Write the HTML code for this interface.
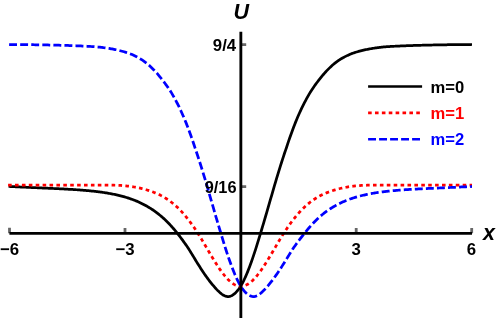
<!DOCTYPE html>
<html><head><meta charset="utf-8"><style>
html,body{margin:0;padding:0;background:#fff;}
body{width:498px;height:320px;overflow:hidden;}
svg{display:block;will-change:transform;}
text{font-family:"Liberation Sans",sans-serif;font-weight:bold;}
</style></head><body>
<svg width="498" height="320" viewBox="0 0 498 320">
<g fill="none" stroke-width="2.75" stroke-linejoin="round">
<path d="M8.6,186.43 L9.6,186.48 L10.6,186.53 L11.6,186.58 L12.6,186.63 L13.6,186.67 L14.6,186.72 L15.6,186.77 L16.6,186.82 L17.6,186.86 L18.6,186.91 L19.6,186.96 L20.6,187.01 L21.6,187.05 L22.6,187.10 L23.6,187.15 L24.6,187.19 L25.6,187.24 L26.6,187.29 L27.6,187.33 L28.6,187.38 L29.6,187.42 L30.6,187.47 L31.6,187.52 L32.6,187.56 L33.6,187.61 L34.6,187.66 L35.6,187.70 L36.6,187.75 L37.6,187.80 L38.6,187.84 L39.6,187.89 L40.6,187.93 L41.6,187.97 L42.6,188.02 L43.6,188.06 L44.6,188.10 L45.6,188.14 L46.6,188.19 L47.6,188.23 L48.6,188.27 L49.6,188.32 L50.6,188.36 L51.6,188.41 L52.6,188.45 L53.6,188.50 L54.6,188.54 L55.6,188.59 L56.6,188.64 L57.6,188.68 L58.6,188.73 L59.6,188.78 L60.6,188.83 L61.6,188.88 L62.6,188.93 L63.6,188.98 L64.6,189.04 L65.6,189.09 L66.6,189.14 L67.6,189.20 L68.6,189.26 L69.6,189.31 L70.6,189.37 L71.6,189.43 L72.6,189.49 L73.6,189.56 L74.6,189.62 L75.6,189.68 L76.6,189.75 L77.6,189.82 L78.6,189.89 L79.6,189.96 L80.6,190.04 L81.6,190.11 L82.6,190.19 L83.6,190.27 L84.6,190.36 L85.6,190.45 L86.6,190.53 L87.6,190.62 L88.6,190.72 L89.6,190.81 L90.6,190.91 L91.6,191.01 L92.6,191.12 L93.6,191.23 L94.6,191.34 L95.6,191.45 L96.6,191.57 L97.6,191.69 L98.6,191.82 L99.6,191.94 L100.6,192.08 L101.6,192.21 L102.6,192.36 L103.6,192.50 L104.6,192.65 L105.6,192.81 L106.6,192.97 L107.6,193.13 L108.6,193.30 L109.6,193.48 L110.6,193.66 L111.6,193.85 L112.6,194.04 L113.6,194.24 L114.6,194.45 L115.6,194.66 L116.6,194.88 L117.6,195.11 L118.6,195.34 L119.6,195.59 L120.6,195.84 L121.6,196.10 L122.6,196.36 L123.6,196.64 L124.6,196.92 L125.6,197.22 L126.6,197.52 L127.6,197.83 L128.6,198.16 L129.6,198.49 L130.6,198.83 L131.6,199.19 L132.6,199.56 L133.6,199.93 L134.6,200.32 L135.6,200.72 L136.6,201.14 L137.6,201.57 L138.6,202.01 L139.6,202.46 L140.6,202.93 L141.6,203.41 L142.6,203.90 L143.6,204.41 L144.6,204.94 L145.6,205.48 L146.6,206.04 L147.6,206.61 L148.6,207.20 L149.6,207.81 L150.6,208.44 L151.6,209.08 L152.6,209.74 L153.6,210.43 L154.6,211.13 L155.6,211.85 L156.6,212.59 L157.6,213.36 L158.6,214.14 L159.6,214.95 L160.6,215.78 L161.6,216.63 L162.6,217.51 L163.6,218.40 L164.6,219.32 L165.6,220.27 L166.6,221.24 L167.6,222.23 L168.6,223.25 L169.6,224.30 L170.6,225.37 L171.6,226.47 L172.6,227.59 L173.6,228.74 L174.6,229.92 L175.6,231.12 L176.6,232.34 L177.6,233.60 L178.6,234.88 L179.6,236.18 L180.6,237.50 L181.6,238.84 L182.6,240.19 L183.6,241.57 L184.6,242.96 L185.6,244.36 L186.6,245.77 L187.6,247.20 L188.6,248.73 L189.6,250.35 L190.6,251.97 L191.6,253.60 L192.6,255.24 L193.6,256.89 L194.6,258.55 L195.6,260.21 L196.6,261.88 L197.6,263.48 L198.6,265.04 L199.6,266.60 L200.6,268.15 L201.6,269.71 L202.6,271.26 L203.6,272.74 L204.6,274.17 L205.6,275.59 L206.6,276.99 L207.6,278.37 L208.6,279.73 L209.6,281.06 L210.6,282.34 L211.6,283.60 L212.6,284.81 L213.6,285.98 L214.6,287.15 L215.6,288.29 L216.6,289.38 L217.6,290.41 L218.6,291.36 L219.6,292.30 L220.6,293.19 L221.6,293.99 L222.6,294.72 L223.6,295.32 L224.6,295.80 L225.6,296.19 L226.6,296.47 L227.6,296.58 L228.6,296.53 L229.6,296.37 L230.6,296.09 L231.6,295.69 L232.6,295.14 L233.6,294.45 L234.6,293.64 L235.6,292.70 L236.6,291.66 L237.6,290.51 L238.6,289.23 L239.6,287.83 L240.6,286.29 L241.6,284.60 L242.6,282.77 L243.6,280.82 L244.6,278.75 L245.6,276.56 L246.6,274.26 L247.6,271.85 L248.6,269.32 L249.6,266.70 L250.6,264.00 L251.6,261.23 L252.6,258.37 L253.6,255.43 L254.6,252.41 L255.6,249.32 L256.6,246.17 L257.6,242.96 L258.6,239.69 L259.6,236.37 L260.6,233.07 L261.6,229.77 L262.6,226.44 L263.6,223.07 L264.6,219.68 L265.6,216.26 L266.6,212.81 L267.6,209.34 L268.6,205.89 L269.6,202.45 L270.6,198.99 L271.6,195.53 L272.6,192.07 L273.6,188.61 L274.6,185.17 L275.6,181.78 L276.6,178.44 L277.6,175.13 L278.6,171.86 L279.6,168.63 L280.6,165.44 L281.6,162.28 L282.6,159.14 L283.6,156.06 L284.6,153.05 L285.6,150.09 L286.6,147.18 L287.6,144.15 L288.6,141.18 L289.6,138.29 L290.6,135.47 L291.6,132.68 L292.6,129.94 L293.6,127.26 L294.6,124.66 L295.6,122.13 L296.6,119.70 L297.6,117.33 L298.6,115.03 L299.6,112.78 L300.6,110.59 L301.6,108.45 L302.6,106.36 L303.6,104.35 L304.6,102.41 L305.6,100.52 L306.6,98.66 L307.6,96.85 L308.6,95.08 L309.6,93.34 L310.6,91.69 L311.6,90.15 L312.6,88.67 L313.6,87.22 L314.6,85.80 L315.6,84.41 L316.6,83.05 L317.6,81.71 L318.6,80.41 L319.6,79.14 L320.6,77.88 L321.6,76.64 L322.6,75.43 L323.6,74.25 L324.6,73.11 L325.6,72.00 L326.6,70.92 L327.6,69.87 L328.6,68.86 L329.6,67.88 L330.6,66.92 L331.6,65.98 L332.6,65.09 L333.6,64.22 L334.6,63.40 L335.6,62.61 L336.6,61.85 L337.6,61.14 L338.6,60.44 L339.6,59.77 L340.6,59.14 L341.6,58.53 L342.6,57.96 L343.6,57.41 L344.6,56.89 L345.6,56.38 L346.6,55.87 L347.6,55.38 L348.6,54.92 L349.6,54.48 L350.6,54.06 L351.6,53.66 L352.6,53.29 L353.6,52.94 L354.6,52.61 L355.6,52.30 L356.6,52.00 L357.6,51.71 L358.6,51.44 L359.6,51.17 L360.6,50.91 L361.6,50.65 L362.6,50.40 L363.6,50.16 L364.6,49.93 L365.6,49.70 L366.6,49.49 L367.6,49.28 L368.6,49.09 L369.6,48.91 L370.6,48.74 L371.6,48.57 L372.6,48.41 L373.6,48.26 L374.6,48.11 L375.6,47.97 L376.6,47.83 L377.6,47.70 L378.6,47.57 L379.6,47.44 L380.6,47.32 L381.6,47.21 L382.6,47.09 L383.6,46.99 L384.6,46.89 L385.6,46.82 L386.6,46.74 L387.6,46.67 L388.6,46.61 L389.6,46.54 L390.6,46.48 L391.6,46.42 L392.6,46.36 L393.6,46.31 L394.6,46.25 L395.6,46.20 L396.6,46.15 L397.6,46.11 L398.6,46.06 L399.6,46.02 L400.6,45.97 L401.6,45.93 L402.6,45.88 L403.6,45.84 L404.6,45.80 L405.6,45.76 L406.6,45.72 L407.6,45.68 L408.6,45.64 L409.6,45.61 L410.6,45.57 L411.6,45.54 L412.6,45.51 L413.6,45.48 L414.6,45.45 L415.6,45.42 L416.6,45.39 L417.6,45.36 L418.6,45.33 L419.6,45.30 L420.6,45.28 L421.6,45.25 L422.6,45.23 L423.6,45.20 L424.6,45.18 L425.6,45.15 L426.6,45.13 L427.6,45.11 L428.6,45.09 L429.6,45.06 L430.6,45.04 L431.6,45.02 L432.6,45.00 L433.6,44.98 L434.6,44.96 L435.6,44.94 L436.6,44.93 L437.6,44.91 L438.6,44.89 L439.6,44.87 L440.6,44.85 L441.6,44.84 L442.6,44.82 L443.6,44.81 L444.6,44.79 L445.6,44.77 L446.6,44.76 L447.6,44.74 L448.6,44.73 L449.6,44.72 L450.6,44.70 L451.6,44.69 L452.6,44.68 L453.6,44.66 L454.6,44.65 L455.6,44.64 L456.6,44.63 L457.6,44.62 L458.6,44.61 L459.6,44.59 L460.6,44.58 L461.6,44.58 L462.6,44.57 L463.6,44.56 L464.6,44.55 L465.6,44.54 L466.6,44.53 L467.6,44.53 L468.6,44.52 L469.6,44.51 L470.6,44.51 L471.6,44.50 L472.0,44.50" stroke="#000"/>
<path d="M8.1,185.10 L9.1,185.10 L10.1,185.10 L11.1,185.10 L12.1,185.10 L13.1,185.10 L14.1,185.10 L15.1,185.10 L16.1,185.10 L17.1,185.10 L18.1,185.10 L19.1,185.10 L20.1,185.10 L21.1,185.10 L22.1,185.10 L23.1,185.10 L24.1,185.10 L25.1,185.10 L26.1,185.10 L27.1,185.10 L28.1,185.10 L29.1,185.10 L30.1,185.10 L31.1,185.09 L32.1,185.09 L33.1,185.09 L34.1,185.09 L35.1,185.09 L36.1,185.09 L37.1,185.09 L38.1,185.09 L39.1,185.10 L40.1,185.10 L41.1,185.10 L42.1,185.09 L43.1,185.09 L44.1,185.09 L45.1,185.09 L46.1,185.09 L47.1,185.09 L48.1,185.09 L49.1,185.09 L50.1,185.09 L51.1,185.09 L52.1,185.09 L53.1,185.09 L54.1,185.09 L55.1,185.09 L56.1,185.09 L57.1,185.09 L58.1,185.10 L59.1,185.10 L60.1,185.10 L61.1,185.10 L62.1,185.10 L63.1,185.09 L64.1,185.09 L65.1,185.09 L66.1,185.09 L67.1,185.09 L68.1,185.09 L69.1,185.09 L70.1,185.09 L71.1,185.08 L72.1,185.08 L73.1,185.09 L74.1,185.09 L75.1,185.09 L76.1,185.09 L77.1,185.09 L78.1,185.09 L79.1,185.09 L80.1,185.10 L81.1,185.10 L82.1,185.10 L83.1,185.09 L84.1,185.09 L85.1,185.09 L86.1,185.09 L87.1,185.09 L88.1,185.09 L89.1,185.10 L90.1,185.10 L91.1,185.10 L92.1,185.10 L93.1,185.09 L94.1,185.09 L95.1,185.09 L96.1,185.09 L97.1,185.09 L98.1,185.09 L99.1,185.09 L100.1,185.09 L101.1,185.10 L102.1,185.09 L103.1,185.09 L104.1,185.09 L105.1,185.10 L106.1,185.10 L107.1,185.11 L108.1,185.11 L109.1,185.12 L110.1,185.13 L111.1,185.15 L112.1,185.17 L113.1,185.19 L114.1,185.22 L115.1,185.25 L116.1,185.28 L117.1,185.31 L118.1,185.35 L119.1,185.39 L120.1,185.44 L121.1,185.49 L122.1,185.57 L123.1,185.65 L124.1,185.74 L125.1,185.83 L126.1,185.92 L127.1,186.02 L128.1,186.13 L129.1,186.24 L130.1,186.36 L131.1,186.49 L132.1,186.65 L133.1,186.81 L134.1,186.99 L135.1,187.17 L136.1,187.36 L137.1,187.55 L138.1,187.76 L139.1,187.97 L140.1,188.19 L141.1,188.42 L142.1,188.67 L143.1,188.92 L144.1,189.18 L145.1,189.46 L146.1,189.74 L147.1,190.04 L148.1,190.35 L149.1,190.68 L150.1,191.02 L151.1,191.37 L152.1,191.71 L153.1,192.07 L154.1,192.45 L155.1,192.85 L156.1,193.26 L157.1,193.69 L158.1,194.14 L159.1,194.60 L160.1,195.09 L161.1,195.60 L162.1,196.13 L163.1,196.68 L164.1,197.26 L165.1,197.86 L166.1,198.48 L167.1,199.13 L168.1,199.80 L169.1,200.50 L170.1,201.22 L171.1,201.98 L172.1,202.76 L173.1,203.56 L174.1,204.40 L175.1,205.27 L176.1,206.17 L177.1,207.09 L178.1,208.05 L179.1,209.04 L180.1,210.06 L181.1,211.11 L182.1,212.19 L183.1,213.30 L184.1,214.44 L185.1,215.61 L186.1,216.82 L187.1,218.06 L188.1,219.33 L189.1,220.63 L190.1,221.96 L191.1,223.32 L192.1,224.71 L193.1,226.13 L194.1,227.58 L195.1,229.05 L196.1,230.55 L197.1,232.07 L198.1,233.62 L199.1,235.20 L200.1,236.83 L201.1,238.48 L202.1,240.14 L203.1,241.82 L204.1,243.51 L205.1,245.21 L206.1,246.91 L207.1,248.62 L208.1,250.33 L209.1,252.05 L210.1,253.75 L211.1,255.44 L212.1,257.10 L213.1,258.75 L214.1,260.37 L215.1,261.98 L216.1,263.57 L217.1,265.13 L218.1,266.65 L219.1,268.15 L220.1,269.61 L221.1,271.02 L222.1,272.40 L223.1,273.73 L224.1,275.01 L225.1,276.24 L226.1,277.40 L227.1,278.51 L228.1,279.56 L229.1,280.53 L230.1,281.44 L231.1,282.28 L232.1,283.05 L233.1,283.74 L234.1,284.35 L235.1,284.88 L236.1,285.33 L237.1,285.70 L238.1,285.98 L239.1,286.19 L240.1,286.30 L241.1,286.33 L242.1,286.24 L243.1,286.08 L244.1,285.82 L245.1,285.49 L246.1,285.07 L247.1,284.57 L248.1,283.99 L249.1,283.33 L250.1,282.60 L251.1,281.79 L252.1,280.91 L253.1,279.96 L254.1,278.94 L255.1,277.85 L256.1,276.71 L257.1,275.51 L258.1,274.25 L259.1,272.94 L260.1,271.58 L261.1,270.18 L262.1,268.74 L263.1,267.26 L264.1,265.74 L265.1,264.19 L266.1,262.62 L267.1,261.02 L268.1,259.40 L269.1,257.76 L270.1,256.11 L271.1,254.43 L272.1,252.73 L273.1,251.02 L274.1,249.31 L275.1,247.60 L276.1,245.89 L277.1,244.19 L278.1,242.49 L279.1,240.81 L280.1,239.14 L281.1,237.49 L282.1,235.85 L283.1,234.24 L284.1,232.69 L285.1,231.16 L286.1,229.65 L287.1,228.16 L288.1,226.70 L289.1,225.27 L290.1,223.87 L291.1,222.50 L292.1,221.16 L293.1,219.84 L294.1,218.56 L295.1,217.31 L296.1,216.09 L297.1,214.91 L298.1,213.75 L299.1,212.63 L300.1,211.54 L301.1,210.48 L302.1,209.45 L303.1,208.44 L304.1,207.47 L305.1,206.53 L306.1,205.62 L307.1,204.75 L308.1,203.90 L309.1,203.08 L310.1,202.28 L311.1,201.52 L312.1,200.79 L313.1,200.08 L314.1,199.39 L315.1,198.74 L316.1,198.10 L317.1,197.50 L318.1,196.91 L319.1,196.35 L320.1,195.81 L321.1,195.29 L322.1,194.80 L323.1,194.32 L324.1,193.86 L325.1,193.43 L326.1,193.01 L327.1,192.61 L328.1,192.22 L329.1,191.85 L330.1,191.50 L331.1,191.16 L332.1,190.81 L333.1,190.48 L334.1,190.17 L335.1,189.86 L336.1,189.57 L337.1,189.29 L338.1,189.02 L339.1,188.77 L340.1,188.52 L341.1,188.28 L342.1,188.06 L343.1,187.84 L344.1,187.63 L345.1,187.43 L346.1,187.24 L347.1,187.06 L348.1,186.88 L349.1,186.71 L350.1,186.55 L351.1,186.40 L352.1,186.29 L353.1,186.17 L354.1,186.06 L355.1,185.96 L356.1,185.87 L357.1,185.77 L358.1,185.69 L359.1,185.60 L360.1,185.52 L361.1,185.46 L362.1,185.41 L363.1,185.37 L364.1,185.33 L365.1,185.29 L366.1,185.26 L367.1,185.23 L368.1,185.20 L369.1,185.18 L370.1,185.16 L371.1,185.14 L372.1,185.13 L373.1,185.12 L374.1,185.11 L375.1,185.10 L376.1,185.10 L377.1,185.09 L378.1,185.09 L379.1,185.09 L380.1,185.10 L381.1,185.10 L382.1,185.09 L383.1,185.09 L384.1,185.09 L385.1,185.09 L386.1,185.09 L387.1,185.09 L388.1,185.09 L389.1,185.09 L390.1,185.10 L391.1,185.10 L392.1,185.10 L393.1,185.10 L394.1,185.09 L395.1,185.09 L396.1,185.09 L397.1,185.09 L398.1,185.09 L399.1,185.10 L400.1,185.10 L401.1,185.10 L402.1,185.10 L403.1,185.09 L404.1,185.09 L405.1,185.09 L406.1,185.09 L407.1,185.09 L408.1,185.09 L409.1,185.09 L410.1,185.08 L411.1,185.09 L412.1,185.09 L413.1,185.09 L414.1,185.09 L415.1,185.09 L416.1,185.09 L417.1,185.09 L418.1,185.09 L419.1,185.09 L420.1,185.10 L421.1,185.10 L422.1,185.10 L423.1,185.10 L424.1,185.09 L425.1,185.09 L426.1,185.09 L427.1,185.09 L428.1,185.09 L429.1,185.09 L430.1,185.09 L431.1,185.09 L432.1,185.09 L433.1,185.09 L434.1,185.09 L435.1,185.09 L436.1,185.09 L437.1,185.09 L438.1,185.09 L439.1,185.09 L440.1,185.10 L441.1,185.10 L442.1,185.10 L443.1,185.09 L444.1,185.09 L445.1,185.09 L446.1,185.09 L447.1,185.09 L448.1,185.09 L449.1,185.09 L450.1,185.09 L451.1,185.10 L452.1,185.10 L453.1,185.10 L454.1,185.10 L455.1,185.10 L456.1,185.10 L457.1,185.10 L458.1,185.10 L459.1,185.10 L460.1,185.10 L461.1,185.10 L462.1,185.10 L463.1,185.10 L464.1,185.10 L465.1,185.10 L466.1,185.10 L467.1,185.10 L468.1,185.10 L469.1,185.10 L470.1,185.10 L471.1,185.10 L472.0,185.10" stroke="#f00" stroke-dasharray="3.6 3.3"/>
<path d="M9.1,44.50 L10.1,44.50 L11.1,44.51 L12.1,44.51 L13.1,44.52 L14.1,44.53 L15.1,44.53 L16.1,44.54 L17.1,44.55 L18.1,44.56 L19.1,44.57 L20.1,44.58 L21.1,44.59 L22.1,44.60 L23.1,44.61 L24.1,44.62 L25.1,44.63 L26.1,44.64 L27.1,44.65 L28.1,44.67 L29.1,44.68 L30.1,44.69 L31.1,44.71 L32.1,44.72 L33.1,44.73 L34.1,44.75 L35.1,44.76 L36.1,44.78 L37.1,44.79 L38.1,44.81 L39.1,44.83 L40.1,44.84 L41.1,44.86 L42.1,44.88 L43.1,44.89 L44.1,44.91 L45.1,44.93 L46.1,44.95 L47.1,44.97 L48.1,44.99 L49.1,45.01 L50.1,45.03 L51.1,45.05 L52.1,45.07 L53.1,45.09 L54.1,45.11 L55.1,45.14 L56.1,45.16 L57.1,45.18 L58.1,45.21 L59.1,45.23 L60.1,45.26 L61.1,45.28 L62.1,45.31 L63.1,45.34 L64.1,45.37 L65.1,45.39 L66.1,45.42 L67.1,45.45 L68.1,45.49 L69.1,45.52 L70.1,45.55 L71.1,45.58 L72.1,45.62 L73.1,45.66 L74.1,45.69 L75.1,45.73 L76.1,45.77 L77.1,45.81 L78.1,45.85 L79.1,45.90 L80.1,45.94 L81.1,45.99 L82.1,46.03 L83.1,46.08 L84.1,46.12 L85.1,46.17 L86.1,46.22 L87.1,46.27 L88.1,46.32 L89.1,46.38 L90.1,46.44 L91.1,46.50 L92.1,46.56 L93.1,46.63 L94.1,46.69 L95.1,46.77 L96.1,46.84 L97.1,46.92 L98.1,47.02 L99.1,47.13 L100.1,47.24 L101.1,47.36 L102.1,47.48 L103.1,47.61 L104.1,47.74 L105.1,47.87 L106.1,48.01 L107.1,48.15 L108.1,48.30 L109.1,48.46 L110.1,48.62 L111.1,48.79 L112.1,48.96 L113.1,49.14 L114.1,49.34 L115.1,49.55 L116.1,49.77 L117.1,50.00 L118.1,50.23 L119.1,50.48 L120.1,50.73 L121.1,50.99 L122.1,51.25 L123.1,51.52 L124.1,51.80 L125.1,52.09 L126.1,52.39 L127.1,52.71 L128.1,53.05 L129.1,53.40 L130.1,53.78 L131.1,54.18 L132.1,54.61 L133.1,55.06 L134.1,55.52 L135.1,56.02 L136.1,56.53 L137.1,57.04 L138.1,57.57 L139.1,58.13 L140.1,58.71 L141.1,59.32 L142.1,59.97 L143.1,60.65 L144.1,61.35 L145.1,62.08 L146.1,62.84 L147.1,63.64 L148.1,64.48 L149.1,65.35 L150.1,66.26 L151.1,67.21 L152.1,68.17 L153.1,69.16 L154.1,70.18 L155.1,71.24 L156.1,72.33 L157.1,73.45 L158.1,74.60 L159.1,75.79 L160.1,77.01 L161.1,78.25 L162.1,79.51 L163.1,80.80 L164.1,82.11 L165.1,83.45 L166.1,84.82 L167.1,86.22 L168.1,87.65 L169.1,89.11 L170.1,90.60 L171.1,92.17 L172.1,93.86 L173.1,95.60 L174.1,97.39 L175.1,99.21 L176.1,101.08 L177.1,102.99 L178.1,104.95 L179.1,106.98 L180.1,109.08 L181.1,111.24 L182.1,113.45 L183.1,115.71 L184.1,118.04 L185.1,120.42 L186.1,122.87 L187.1,125.43 L188.1,128.06 L189.1,130.75 L190.1,133.52 L191.1,136.30 L192.1,139.15 L193.1,142.06 L194.1,145.05 L195.1,148.06 L196.1,150.97 L197.1,153.94 L198.1,156.98 L199.1,160.08 L200.1,163.23 L201.1,166.39 L202.1,169.59 L203.1,172.83 L204.1,176.12 L205.1,179.44 L206.1,182.79 L207.1,186.20 L208.1,189.65 L209.1,193.10 L210.1,196.57 L211.1,200.03 L212.1,203.48 L213.1,206.92 L214.1,210.39 L215.1,213.85 L216.1,217.29 L217.1,220.70 L218.1,224.09 L219.1,227.44 L220.1,230.77 L221.1,234.06 L222.1,237.37 L223.1,240.67 L224.1,243.93 L225.1,247.12 L226.1,250.26 L227.1,253.33 L228.1,256.32 L229.1,259.24 L230.1,262.07 L231.1,264.82 L232.1,267.50 L233.1,270.09 L234.1,272.58 L235.1,274.96 L236.1,277.23 L237.1,279.39 L238.1,281.42 L239.1,283.33 L240.1,285.12 L241.1,286.76 L242.1,288.26 L243.1,289.63 L244.1,290.87 L245.1,291.97 L246.1,292.99 L247.1,293.90 L248.1,294.67 L249.1,295.32 L250.1,295.82 L251.1,296.19 L252.1,296.43 L253.1,296.56 L254.1,296.57 L255.1,296.39 L256.1,296.08 L257.1,295.67 L258.1,295.15 L259.1,294.51 L260.1,293.76 L261.1,292.93 L262.1,292.02 L263.1,291.08 L264.1,290.10 L265.1,289.06 L266.1,287.95 L267.1,286.79 L268.1,285.63 L269.1,284.45 L270.1,283.22 L271.1,281.96 L272.1,280.66 L273.1,279.33 L274.1,277.96 L275.1,276.57 L276.1,275.17 L277.1,273.74 L278.1,272.31 L279.1,270.79 L280.1,269.24 L281.1,267.69 L282.1,266.13 L283.1,264.57 L284.1,263.02 L285.1,261.38 L286.1,259.75 L287.1,258.12 L288.1,256.50 L289.1,254.89 L290.1,253.28 L291.1,251.69 L292.1,250.10 L293.1,248.52 L294.1,247.07 L295.1,245.68 L296.1,244.31 L297.1,242.94 L298.1,241.59 L299.1,240.26 L300.1,238.93 L301.1,237.62 L302.1,236.32 L303.1,235.04 L304.1,233.79 L305.1,232.56 L306.1,231.35 L307.1,230.12 L308.1,228.92 L309.1,227.74 L310.1,226.59 L311.1,225.47 L312.1,224.37 L313.1,223.29 L314.1,222.24 L315.1,221.22 L316.1,220.22 L317.1,219.25 L318.1,218.30 L319.1,217.37 L320.1,216.47 L321.1,215.62 L322.1,214.79 L323.1,213.99 L324.1,213.20 L325.1,212.43 L326.1,211.69 L327.1,210.97 L328.1,210.26 L329.1,209.58 L330.1,208.92 L331.1,208.27 L332.1,207.64 L333.1,207.04 L334.1,206.44 L335.1,205.87 L336.1,205.32 L337.1,204.78 L338.1,204.26 L339.1,203.75 L340.1,203.26 L341.1,202.78 L342.1,202.32 L343.1,201.87 L344.1,201.44 L345.1,201.01 L346.1,200.60 L347.1,200.20 L348.1,199.82 L349.1,199.44 L350.1,199.08 L351.1,198.73 L352.1,198.39 L353.1,198.06 L354.1,197.74 L355.1,197.43 L356.1,197.13 L357.1,196.84 L358.1,196.56 L359.1,196.28 L360.1,196.02 L361.1,195.76 L362.1,195.51 L363.1,195.27 L364.1,195.04 L365.1,194.82 L366.1,194.60 L367.1,194.39 L368.1,194.18 L369.1,193.98 L370.1,193.79 L371.1,193.61 L372.1,193.43 L373.1,193.25 L374.1,193.08 L375.1,192.92 L376.1,192.76 L377.1,192.61 L378.1,192.46 L379.1,192.31 L380.1,192.17 L381.1,192.04 L382.1,191.91 L383.1,191.78 L384.1,191.65 L385.1,191.53 L386.1,191.42 L387.1,191.30 L388.1,191.19 L389.1,191.09 L390.1,190.98 L391.1,190.88 L392.1,190.78 L393.1,190.69 L394.1,190.60 L395.1,190.51 L396.1,190.42 L397.1,190.33 L398.1,190.25 L399.1,190.17 L400.1,190.09 L401.1,190.01 L402.1,189.94 L403.1,189.87 L404.1,189.80 L405.1,189.73 L406.1,189.66 L407.1,189.60 L408.1,189.54 L409.1,189.47 L410.1,189.41 L411.1,189.35 L412.1,189.30 L413.1,189.24 L414.1,189.18 L415.1,189.13 L416.1,189.07 L417.1,189.02 L418.1,188.97 L419.1,188.92 L420.1,188.87 L421.1,188.82 L422.1,188.77 L423.1,188.72 L424.1,188.67 L425.1,188.62 L426.1,188.58 L427.1,188.53 L428.1,188.48 L429.1,188.44 L430.1,188.39 L431.1,188.35 L432.1,188.30 L433.1,188.26 L434.1,188.22 L435.1,188.17 L436.1,188.13 L437.1,188.09 L438.1,188.05 L439.1,188.00 L440.1,187.96 L441.1,187.92 L442.1,187.87 L443.1,187.83 L444.1,187.78 L445.1,187.73 L446.1,187.69 L447.1,187.64 L448.1,187.60 L449.1,187.55 L450.1,187.50 L451.1,187.46 L452.1,187.41 L453.1,187.36 L454.1,187.32 L455.1,187.27 L456.1,187.22 L457.1,187.18 L458.1,187.13 L459.1,187.08 L460.1,187.04 L461.1,186.99 L462.1,186.94 L463.1,186.90 L464.1,186.85 L465.1,186.80 L466.1,186.76 L467.1,186.71 L468.1,186.66 L469.1,186.61 L470.1,186.56 L471.1,186.52 L472.0,186.47" stroke="#00f" stroke-dasharray="7.92 3.15"/>
</g>
<!-- ticks -->
<g stroke="#666" stroke-width="2.8" fill="none">
<path d="M9.5,227.8V233.3M125,228V233.3M356.2,228V233.3M471.7,228V233.3"/>
<path d="M241,44.6H246.2M241,186.6H246.2"/>
</g>
<!-- axes -->
<g stroke="#000" stroke-width="2.6" fill="none">
<path d="M9.4,233.4H472"/>
<path d="M240.85,31.7V318" stroke-width="2.85"/>
</g>
<!-- legend -->
<g fill="none" stroke-width="2.65">
<path d="M368.1,86.5H422.1" stroke="#000"/>
<path d="M368.1,112.9H422.1" stroke="#f00" stroke-dasharray="3.6 3.28"/>
<path d="M368.1,139.2H422.1" stroke="#00f" stroke-dasharray="7.9 3.1"/>
</g>
<g font-size="16.6px">
<text x="430.5" y="92.7" fill="#000">m=0</text>
<text x="430.5" y="119.0" fill="#f00">m=1</text>
<text x="430.5" y="145.3" fill="#00f">m=2</text>
</g>
<g font-size="16.8px" fill="#000">
<text x="236.2" y="50.9" text-anchor="end">9/4</text>
<text x="236.5" y="193.3" text-anchor="end" textLength="31.8" lengthAdjust="spacingAndGlyphs">9/16</text>
<text x="9.6" y="254.6" text-anchor="middle">−6</text>
<text x="125" y="254.6" text-anchor="middle">−3</text>
<text x="356.2" y="254.6" text-anchor="middle">3</text>
<text x="471.4" y="254.6" text-anchor="middle">6</text>
</g>
<g font-size="21.5px" font-style="italic" fill="#000">
<text x="233.6" y="18.8">U</text>
<text x="483" y="240">x</text>
</g>
</svg>
</body></html>
